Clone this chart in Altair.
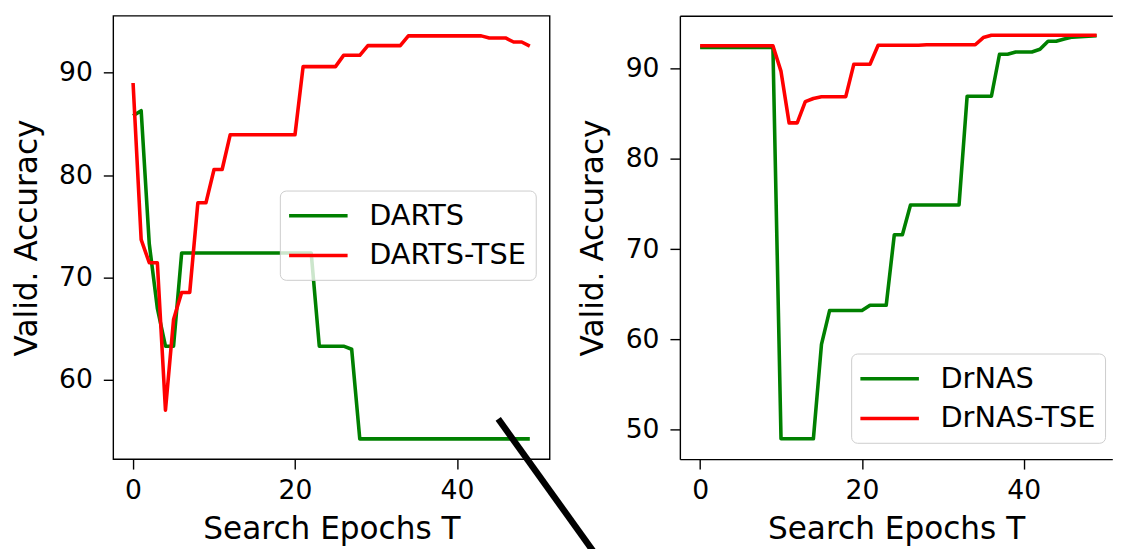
import altair as alt
import pandas as pd

# ---------------- data ----------------
epochs = list(range(50))

darts = ([85.8, 86.3, 73.3, 67.0, 63.3, 63.3] + [72.4] * 17 + [63.3] * 4
         + [63.0] + [54.25] * 22)
darts_tse = ([89.0, 73.7, 71.45, 71.45, 57.05, 65.9, 68.55, 68.55, 77.3, 77.3,
              80.55, 80.55] + [83.95] * 9 + [90.6] * 5 + [91.7] * 3
             + [92.65] * 5 + [93.6] * 10 + [93.4] * 3 + [93.0] * 2 + [92.6])

drnas = ([92.35] * 10 + [49.0] * 5 + [59.45] + [63.2] * 5 + [63.8] * 3
         + [71.6] * 2 + [74.9] * 7 + [86.95] * 4 + [91.6] * 2 + [91.85] * 3
         + [92.15] + [93.05] * 2 + [93.3, 93.5, 93.55, 93.6, 93.65])
drnas_tse = ([92.55] * 10 + [89.7, 84.0, 84.0, 86.35, 86.7] + [86.9] * 4
             + [90.5] * 3 + [92.6] * 6 + [92.65] * 7 + [93.45] + [93.7] * 14)

left_names = ["DARTS", "DARTS-TSE"]
right_names = ["DrNAS", "DrNAS-TSE"]
x_ticks = [0, 20, 40]
y_ticks_left = [60, 70, 80, 90]
y_ticks_right = [50, 60, 70, 80, 90]

# annotation stroke (data coordinates of the left panel)
arrow = pd.DataFrame({"epoch": [45.1], "acc": [56.2],
                      "epoch_end": [57.0], "acc_end": [43.1]})

# ---------------- styling ----------------
FONT = "DejaVu Sans"
GREEN = "#008000"
RED = "#ff0000"
TICK_FS = 26.8
TITLE_FS = 31.4
LEG_FS = 29

left_df = pd.DataFrame({"epoch": epochs * 2, "acc": darts + darts_tse,
                        "method": [left_names[0]] * 50 + [left_names[1]] * 50})
right_df = pd.DataFrame({"epoch": epochs * 2, "acc": drnas + drnas_tse,
                         "method": [right_names[0]] * 50 + [right_names[1]] * 50})


def x_axis(domain=False):
    return alt.Axis(values=x_ticks, title="Search Epochs T", grid=False,
                    domain=domain, domainColor="black", domainWidth=1.4,
                    tickSize=10, tickWidth=1.4, tickColor="black",
                    labelFont=FONT, labelFontSize=TICK_FS, labelColor="black",
                    labelPadding=9, labelFlush=False,
                    titleFont=FONT, titleFontSize=TITLE_FS, titleFontWeight="normal",
                    titleColor="black", titleBaseline="top", titleY=55.5)


def y_axis(values, domain=False):
    return alt.Axis(values=values, title="Valid. Accuracy", grid=False,
                    domain=domain, domainColor="black", domainWidth=1.4,
                    tickSize=10, tickWidth=1.4, tickColor="black",
                    labelFont=FONT, labelFontSize=TICK_FS, labelColor="black",
                    labelPadding=11,
                    titleFont=FONT, titleFontSize=TITLE_FS, titleFontWeight="normal",
                    titleColor="black", titleX=-70.5)


def legend(lx, ly):
    return alt.Legend(title=None, orient="none", legendX=lx, legendY=ly,
                      symbolType="M-2,0H2", symbolSize=870, symbolStrokeWidth=3.5,
                      symbolOffset=13.3, labelOffset=34.7,
                      labelFont=FONT, labelFontSize=LEG_FS, labelColor="black",
                      padding=9, rowPadding=8,
                      fillColor="rgba(255,255,255,0.8)", strokeColor="#cccccc",
                      cornerRadius=6)


# ---------------- left panel ----------------
xs_l = alt.Scale(domain=[-2.45, 51.45], nice=False, zero=False)
ys_l = alt.Scale(domain=[52.27, 95.56], nice=False, zero=False)

lines_l = alt.Chart(left_df).mark_line(strokeWidth=3.6, strokeJoin="round").encode(
    x=alt.X("epoch:Q", scale=xs_l, axis=x_axis()),
    y=alt.Y("acc:Q", scale=ys_l, axis=y_axis(y_ticks_left)),
    color=alt.Color("method:N", scale=alt.Scale(domain=left_names, range=[GREEN, RED]),
                    legend=legend(168, 176.2)),
    order=alt.Order("epoch:Q"),
)

stroke_l = alt.Chart(arrow).mark_rule(color="black", strokeWidth=6.5, clip=False).encode(
    x=alt.X("epoch:Q", scale=xs_l, title="Search Epochs T"),
    y=alt.Y("acc:Q", scale=ys_l, title="Valid. Accuracy"),
    x2="epoch_end:Q",
    y2="acc_end:Q",
)

left = alt.layer(lines_l, stroke_l).properties(width=440, height=447)

# ---------------- right panel ----------------
xs_r = alt.Scale(domain=[-2.5, 50.94], nice=False, zero=False)
ys_r = alt.Scale(domain=[46.74, 95.86], nice=False, zero=False)

lines_r = alt.Chart(right_df).mark_line(strokeWidth=3.6, strokeJoin="round").encode(
    x=alt.X("epoch:Q", scale=xs_r, axis=x_axis(domain=True)),
    y=alt.Y("acc:Q", scale=ys_r, axis=y_axis(y_ticks_right, domain=True)),
    color=alt.Color("method:N", scale=alt.Scale(domain=right_names, range=[GREEN, RED]),
                    legend=legend(172.7, 340.5)),
    order=alt.Order("epoch:Q"),
)

top_r = alt.Chart(right_df).mark_point(opacity=0, size=0).encode(
    x=alt.X("epoch:Q", scale=xs_r,
            axis=alt.Axis(orient="top", labels=False, ticks=False, title=None, grid=False,
                          domain=True, domainColor="black", domainWidth=1.4)),
    y=alt.value(0),
)

right = (alt.layer(lines_r, top_r)
         .resolve_axis(x="independent")
         .properties(width=436, height=447,
                     view=alt.ViewBackground(stroke="transparent")))

chart = (alt.hconcat(left, right, spacing=131.3, bounds="flush")
         .resolve_scale(color="independent")
         .configure_view(stroke="black", strokeWidth=1.4)
         .properties(padding={"left": 2.1, "top": 4.6, "right": 0, "bottom": 0},
                     background="white"))

chart.save("out.html", embed_options={"renderer": "svg", "actions": False})
